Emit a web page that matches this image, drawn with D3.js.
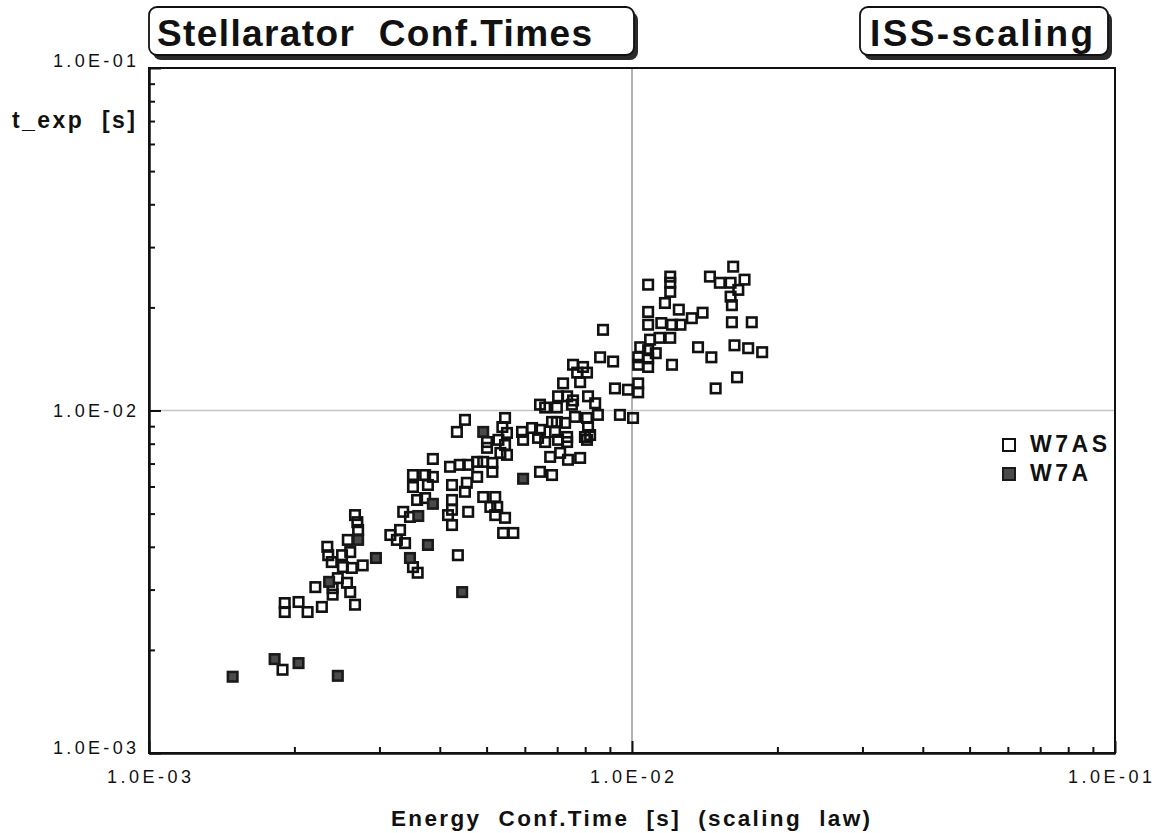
<!DOCTYPE html>
<html><head><meta charset="utf-8">
<script src="https://cdn.jsdelivr.net/npm/d3@7"></script>
<style>
body{margin:0;background:#fff;}
text{font-family:"Liberation Sans",Arial,Helvetica,sans-serif;fill:#111;}
</style></head>
<body><svg id="c" width="1158" height="833"></svg>
<script>
// ---- data ----
const w7asX = [0.00189,0.00387,0.00352,0.00373,0.00387,0.00352,0.00378,0.0042,0.00424,0.00359,0.00373,0.00336,0.00347,0.00424,0.00424,0.00424,0.00416,0.00436,0.00331,0.00316,0.00326,0.00339,0.00352,0.0036,0.00267,0.0027,0.00271,0.00258,0.00234,0.00235,0.00251,0.00261,0.00239,0.00252,0.00263,0.00277,0.00221,0.00246,0.00257,0.0024,0.0024,0.00261,0.00267,0.00228,0.00213,0.00204,0.00191,0.00191,
0.00755,0.00792,0.00807,0.0077,0.00781,0.0072,0.00703,0.00734,0.00755,0.00811,0.00645,0.00661,0.00699,0.00751,0.00762,0.00807,0.00451,0.00434,0.00546,0.00539,0.00551,0.00501,0.00529,0.00501,0.00546,0.00551,0.00534,0.00592,0.00621,0.00595,0.00645,0.00639,0.00661,0.00683,0.00699,0.00727,0.00693,0.00734,0.00703,0.00734,0.00677,0.0071,0.00737,0.00781,0.00811,0.00819,0.00799,0.00807,0.00645,0.00683,0.0044,0.00458,0.00478,0.00492,0.00514,0.00514,0.00478,0.00455,0.00451,0.00492,0.00521,0.00509,0.00526,0.00458,0.00521,0.00546,0.00541,0.00568,
0.0108,0.012,0.012,0.012,0.0117,0.0125,0.0108,0.0108,0.0115,0.0121,0.0126,0.0133,0.014,0.0114,0.012,0.0109,0.0104,0.0108,0.0112,0.0103,0.0108,0.0103,0.0108,0.0121,0.00871,0.00859,0.00914,0.0162,0.0145,0.0152,0.016,0.0171,0.0166,0.016,0.0161,0.0161,0.0177,0.0137,0.0146,0.0163,0.0174,0.0186,0.0165,0.0149,0.0103,0.00981,0.00922,0.0103,0.00944,0.01005,0.00839,0.0085];
const w7asY = [0.00175,0.00722,0.00648,0.00648,0.0064,0.00598,0.00606,0.00685,0.00606,0.00548,0.00555,0.00506,0.00489,0.00548,0.00513,0.00463,0.00495,0.00378,0.00448,0.00433,0.00419,0.0041,0.00349,0.00336,0.00495,0.00472,0.00448,0.00419,0.004,0.00378,0.00378,0.00386,0.00361,0.00349,0.00347,0.00353,0.00305,0.00324,0.00314,0.00303,0.0029,0.00295,0.00271,0.00267,0.00258,0.00276,0.00274,0.00258,
0.0136,0.0134,0.0129,0.0129,0.0121,0.012,0.011,0.011,0.0107,0.011,0.0104,0.0102,0.0102,0.0104,0.00958,0.00951,0.00939,0.00866,0.00951,0.00895,0.0086,0.00809,0.00821,0.00778,0.00793,0.00742,0.00752,0.00866,0.00889,0.00821,0.00878,0.00832,0.00809,0.00926,0.00926,0.0092,0.00866,0.00837,0.00821,0.00809,0.00732,0.00752,0.00718,0.00727,0.00895,0.00848,0.00837,0.00821,0.00662,0.00648,0.00694,0.00694,0.00708,0.00708,0.00703,0.00662,0.0064,0.00615,0.00579,0.00559,0.00559,0.00523,0.00523,0.00506,0.00495,0.00486,0.00439,0.00439,
0.0233,0.0246,0.0236,0.0222,0.0206,0.0197,0.0194,0.0178,0.018,0.0178,0.0178,0.0186,0.0193,0.0163,0.0163,0.0161,0.0153,0.015,0.0147,0.0143,0.0142,0.0136,0.0134,0.0136,0.0172,0.0143,0.0139,0.0263,0.0246,0.0236,0.0236,0.0241,0.0225,0.0215,0.0203,0.0181,0.0181,0.0153,0.0143,0.0155,0.0152,0.0148,0.0125,0.0116,0.012,0.0115,0.0116,0.0113,0.00971,0.00951,0.0105,0.00971];
const w7aX = [0.00149,0.00182,0.00204,0.00246,0.00295,0.00236,0.00347,0.00378,0.00445,0.00595,0.00492,0.00361,0.00387,0.00271];
const w7aY = [0.00167,0.00188,0.00183,0.00168,0.00371,0.00316,0.00371,0.00405,0.00295,0.00632,0.00866,0.00492,0.00534,0.00419];
const decadeTicks = [1e-3, 1e-2, 1e-1];
const tickLabels = ["1.0E-03", "1.0E-02", "1.0E-01"];
const seriesNames = ["W7AS", "W7A"];
const titleLeft = "Stellarator  Conf.Times";
const titleRight = "ISS-scaling";
const xTitle = "Energy  Conf.Time  [s]  (scaling  law)";
const yTitle = "t_exp  [s]";

// ---- layout ----
const L = 149, R = 1115, T = 68, B = 753;
const svg = d3.select("#c");
const x = d3.scaleLog().domain([1e-3, 1e-1]).range([L, R]);
const y = d3.scaleLog().domain([1e-3, 1e-1]).range([B, T]);

const minor = [];
[1e-3, 1e-2].forEach(d => { for (let k = 2; k <= 9; k++) minor.push(k * d); });
const allTicks = minor.concat(decadeTicks);

// grid at 1e-2
svg.append("line").attr("x1", x(1e-2)).attr("x2", x(1e-2)).attr("y1", T).attr("y2", B)
  .attr("stroke", "#b4b4b4").attr("stroke-width", 2);
svg.append("line").attr("x1", L).attr("x2", R).attr("y1", y(1e-2)).attr("y2", y(1e-2))
  .attr("stroke", "#c4c4c4").attr("stroke-width", 1.5);

// frame
svg.append("rect").attr("x", L).attr("y", T).attr("width", R - L).attr("height", B - T)
  .attr("fill", "none").attr("stroke", "#111").attr("stroke-width", 2);

// axes (inward ticks)
const gx = svg.append("g").attr("transform", `translate(0,${B})`)
  .call(d3.axisBottom(x).tickValues(allTicks).tickSize(-6).tickSizeOuter(0).tickFormat(""));
const gy = svg.append("g").attr("transform", `translate(${L},0)`)
  .call(d3.axisLeft(y).tickValues(allTicks).tickSize(-6).tickSizeOuter(0).tickFormat(""));
[gx, gy].forEach(g => {
  g.select(".domain").attr("stroke", "#111").attr("stroke-width", 2.5);
  g.selectAll(".tick line").attr("stroke", "#111").attr("stroke-width", 2);
});
gx.selectAll(".tick line").filter(d => decadeTicks.includes(d)).attr("y2", -12);
gy.selectAll(".tick line").filter(d => decadeTicks.includes(d)).attr("x2", 12);

// tick labels
decadeTicks.forEach((d, i) => {
  const cx = i === 2 ? x(d) - 5 : x(d);
  svg.append("text").attr("x", cx).attr("y", B + 30).attr("text-anchor", "middle")
    .attr("font-size", 18).attr("textLength", 84).attr("lengthAdjust", "spacing").text(tickLabels[i]);
  const dy = i === 0 ? 1 : (i === 1 ? 6 : -1);
  svg.append("text").attr("x", 136).attr("y", y(d) + dy).attr("text-anchor", "end")
    .attr("font-size", 18).attr("textLength", 83).attr("lengthAdjust", "spacing").text(tickLabels[i]);
});

// axis titles
svg.append("text").attr("x", 12).attr("y", 128).attr("font-size", 23).attr("font-weight", "bold")
  .style("white-space", "pre").attr("textLength", 123).attr("lengthAdjust", "spacing").text(yTitle);
svg.append("text").attr("x", 391).attr("y", 826).attr("font-size", 22.5).attr("font-weight", "bold")
  .style("white-space", "pre").attr("textLength", 479).attr("lengthAdjust", "spacing").text(xTitle);

// title boxes
function titleBox(bx, by, bw, bh, label, tx, tl) {
  svg.append("rect").attr("x", bx + 4).attr("y", by + 5).attr("width", bw).attr("height", bh)
    .attr("rx", 8).attr("fill", "#2a2a2a");
  svg.append("rect").attr("x", bx).attr("y", by).attr("width", bw).attr("height", bh)
    .attr("rx", 8).attr("fill", "#fff").attr("stroke", "#111").attr("stroke-width", 1.8);
  svg.append("text").attr("x", tx).attr("y", by + 39).attr("font-size", 37).attr("font-weight", "bold")
    .style("white-space", "pre").attr("textLength", tl).attr("lengthAdjust", "spacing").text(label);
}
titleBox(149, 7, 485, 48, titleLeft, 157, 435);
titleBox(860, 7, 248, 48, titleRight, 870, 223);

// markers
const S = 9.5;
svg.append("g").selectAll("rect").data(d3.range(w7asX.length)).join("rect")
  .attr("x", i => x(w7asX[i]) - S / 2).attr("y", i => y(w7asY[i]) - S / 2)
  .attr("width", S).attr("height", S)
  .attr("fill", "none").attr("stroke", "#111").attr("stroke-width", 2.6);
svg.append("g").selectAll("rect").data(d3.range(w7aX.length)).join("rect")
  .attr("x", i => x(w7aX[i]) - S / 2).attr("y", i => y(w7aY[i]) - S / 2)
  .attr("width", S).attr("height", S)
  .attr("fill", "#4a4a4a").attr("stroke", "#1a1a1a").attr("stroke-width", 2.6);

// legend
const lg = svg.append("g");
lg.append("rect").attr("x", 1003).attr("y", 439).attr("width", 12).attr("height", 12)
  .attr("fill", "none").attr("stroke", "#111").attr("stroke-width", 2);
lg.append("rect").attr("x", 1003).attr("y", 468).attr("width", 12).attr("height", 12)
  .attr("fill", "#4a4a4a").attr("stroke", "#1a1a1a").attr("stroke-width", 2);
lg.append("text").attr("x", 1030).attr("y", 452).attr("font-size", 23).attr("font-weight", "bold")
  .attr("textLength", 77).attr("lengthAdjust", "spacing").text(seriesNames[0]);
lg.append("text").attr("x", 1030).attr("y", 481).attr("font-size", 23).attr("font-weight", "bold")
  .attr("textLength", 58).attr("lengthAdjust", "spacing").text(seriesNames[1]);
</script></body></html>
